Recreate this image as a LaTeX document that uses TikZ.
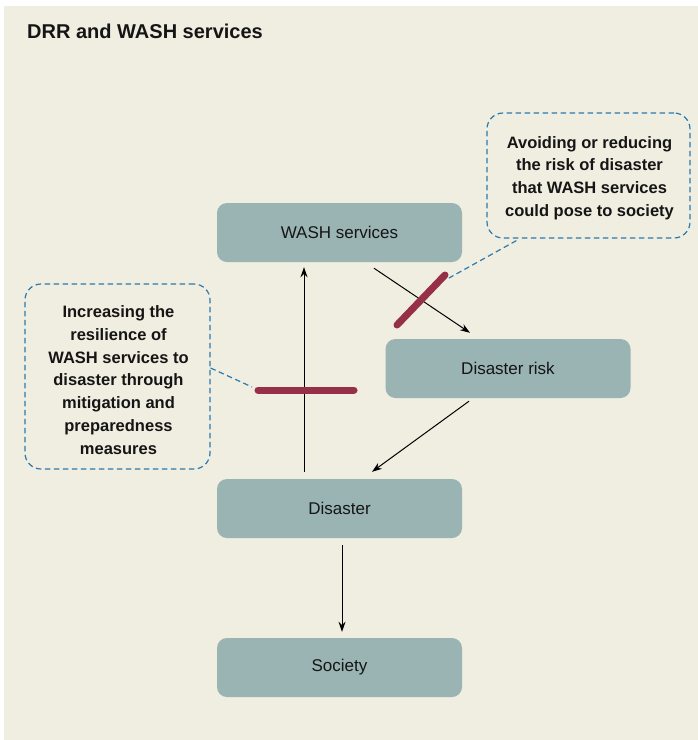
\documentclass[tikz,border=0pt]{standalone}
\usepackage{fontspec}
\setmainfont{Liberation Sans}
\usetikzlibrary{arrows.meta}
\definecolor{bg}{HTML}{F0EDE1}
\definecolor{boxfill}{HTML}{9AB3B3}
\definecolor{barred}{HTML}{963048}
\definecolor{dashblue}{HTML}{2C7BAE}
\definecolor{txt}{HTML}{151515}
\tikzset{
  stepbox/.style={draw=none, fill=boxfill, rounded corners=10pt, minimum width=245pt, minimum height=59pt, inner sep=0pt, text=txt, font=\fontsize{17}{20}\selectfont},
  calloutbox/.style={draw=dashblue, dash pattern=on 5.5pt off 3.5pt, line width=1.2pt, rounded corners=16pt, inner sep=0pt},
  callouttext/.style={inner sep=0pt, align=center, text=txt, font=\bfseries\fontsize{16.5}{22.8}\selectfont},
  arr/.style={-{Stealth[length=10pt,width=7pt]}, line width=1pt, black},
  bar/.style={barred, line width=7pt, line cap=round},
  pointer/.style={dashblue, dash pattern=on 5.5pt off 3.5pt, line width=1.2pt}
}
\begin{document}
\begin{tikzpicture}[x=1pt,y=-1pt]
\useasboundingbox (0,0) rectangle (698,740);
\fill[bg] (4,6) rectangle (698,740);
\node[anchor=west, text=txt, font=\bfseries\fontsize{20}{22}\selectfont, inner sep=0pt] (title) at (27,31) {DRR and WASH services};

\node[stepbox] (wash) at (339.5,232.5) {WASH services};
\node[stepbox] (risk) at (508,368.5) {Disaster risk};
\node[stepbox] (dis) at (339.5,508.5) {Disaster};
\node[stepbox] (soc) at (339.5,667.5) {Society};

\node[calloutbox, minimum width=203pt, minimum height=125pt] (c1) at (588.5,175.5) {};
\node[callouttext] (c1t) at (589.5,178) {Avoiding or reducing\\the risk of disaster\\that WASH services\\could pose to society};
\node[calloutbox, minimum width=185pt, minimum height=185pt] (c2) at (117.5,376.5) {};
\node[callouttext] (c2t) at (118.5,380) {Increasing the\\resilience of\\WASH services to\\disaster through\\mitigation and\\preparedness\\measures};

\draw[arr] ([xshift=-35.5pt,yshift=7pt]dis.north) -- ([xshift=-35.5pt,yshift=-5pt]wash.south);
\draw[arr] ([xshift=34.5pt,yshift=-6pt]wash.south) -- ([xshift=-38pt,yshift=6pt]risk.north);
\draw[arr] ([xshift=-39pt,yshift=-3pt]risk.south) -- ([xshift=32.5pt,yshift=7pt]dis.north);
\draw[arr] ([xshift=2.5pt,yshift=-7pt]dis.south) -- ([xshift=2.5pt,yshift=6pt]soc.north);

\coordinate (b1a) at (258,390);
\coordinate (b1b) at (354,390);
\coordinate (b2a) at (397,325);
\coordinate (b2b) at (445,275);
\draw[bar] (b1a) -- (b1b);
\draw[bar] (b2a) -- (b2b);

\draw[pointer] ([xshift=30pt,yshift=-2pt]c1.south west) -- ([xshift=4pt,yshift=-3pt]b2b);
\draw[pointer] ([yshift=8.5pt]c2.east) -- ([xshift=-6pt,yshift=3pt]b1a);
\end{tikzpicture}
\end{document}
